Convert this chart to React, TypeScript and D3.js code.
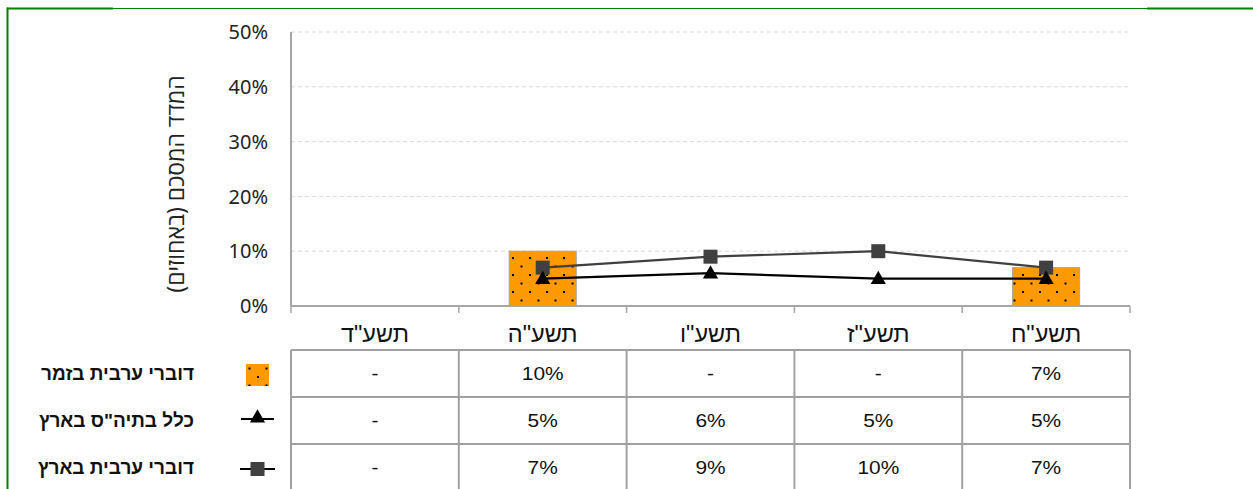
import React from "react";
import * as d3 from "d3";

// categories (school years) and series values in percent
const categories = ['תשע"ד', 'תשע"ה', 'תשע"ו', 'תשע"ז', 'תשע"ח'];
const barValues: (number | null)[] = [null, 10, null, null, 7];
const allSchools: (number | null)[] = [null, 5, 6, 5, 5];
const arabicSchools: (number | null)[] = [null, 7, 9, 10, 7];
const yTicks = [0, 10, 20, 30, 40, 50];

const seriesNames = ["דוברי ערבית בזמר", 'כלל בתיה"ס בארץ', "דוברי ערבית בארץ"];
const yTitle = "המדד המסכם (באחוזים)";

const W = 1253;
const H = 489;
const plot = {left: 291, right: 1130, top: 32, bottom: 306};
const tableTop = 350;
const rowH = 47;

const fmt = (v: number | null) => (v == null ? "-" : `${v}%`);

export default function App() {
    const x = d3.scaleBand<string>().domain(categories).range([plot.left, plot.right]).padding(0);
    const y = d3.scaleLinear().domain([0, 50]).range([plot.bottom, plot.top]);
    const bw = x.bandwidth();
    const barW = bw * 0.4;
    const cx = (c: string) => (x(c) as number) + bw / 2;

    const line = d3
        .line<{c: string; v: number | null}>()
        .defined((d) => d.v != null)
        .x((d) => cx(d.c))
        .y((d) => y(d.v as number));

    const pts = (vals: (number | null)[]) => categories.map((c, i) => ({c, v: vals[i]}));

    const tri = d3.symbol().type(d3.symbolTriangle).size(100)() as string;
    const font = "'Liberation Sans', Arial, sans-serif";
    const tickFont = "'Noto Sans', 'Open Sans', sans-serif";

    const rows = [barValues, allSchools, arabicSchools];
    const edges = [...categories.map((c) => x(c) as number), plot.right];

    return (
        <svg width={W} height={H} style={{position: "absolute", left: 0, top: 0}}>
            <defs>
                <pattern id="dots" width={17} height={17} patternUnits="userSpaceOnUse">
                    <rect width={17} height={17} fill="#ff9900" />
                    <rect x={2} y={2} width={2} height={2} fill="#000" />
                    <rect x={10.5} y={10.5} width={2} height={2} fill="#000" />
                </pattern>
            </defs>
            <rect width={W} height={H} fill="#fff" />

            {/* frame */}
            <line x1={7} x2={W} y1={8.5} y2={8.5} stroke="#008000" strokeWidth={1} />
            <line x1={7} x2={113} y1={8.5} y2={8.5} stroke="#008000" strokeWidth={2} />
            <line x1={1147} x2={W} y1={8.5} y2={8.5} stroke="#008000" strokeWidth={2} />
            <line x1={7.5} x2={7.5} y1={7.5} y2={H} stroke="#008000" strokeWidth={2} />

            {/* gridlines */}
            {yTicks.filter((t) => t > 0).map((t) => (
                <line key={t} x1={plot.left} x2={plot.right} y1={y(t)} y2={y(t)}
                      stroke="#d9d9d9" strokeDasharray="4,3" />
            ))}
            {yTicks.map((t) => (
                <text key={t} x={268} y={y(t)} dy="0.36em" textAnchor="end"
                      fontFamily={tickFont} fontSize={20} fill="#222">{t}%</text>
            ))}

            <text transform={`translate(184,${(plot.top + plot.bottom) / 2 + 15}) rotate(-90)`}
                  textAnchor="middle" direction="rtl" fontFamily={tickFont} fontSize={23} fill="#222">
                {yTitle}
            </text>

            {/* bars */}
            {categories.map((c, i) => barValues[i] == null ? null : (
                <rect key={c} x={cx(c) - barW / 2} y={y(barValues[i] as number)} width={barW}
                      height={y(0) - y(barValues[i] as number)} fill="url(#dots)"
                      stroke="#a6a6a6" strokeWidth={1} />
            ))}

            {/* axes */}
            <line x1={plot.left} x2={plot.right} y1={plot.bottom} y2={plot.bottom} stroke="#a6a6a6" strokeWidth={2} />
            <line x1={plot.left} x2={plot.left} y1={plot.top} y2={plot.bottom} stroke="#a6a6a6" strokeWidth={2} />
            {edges.map((e, i) => (
                <line key={i} x1={e} x2={e} y1={plot.bottom} y2={plot.bottom + 7} stroke="#a6a6a6" strokeWidth={1.5} />
            ))}

            {/* lines */}
            <path d={line(pts(arabicSchools)) as string} fill="none" stroke="#404040" strokeWidth={2.2} />
            <path d={line(pts(allSchools)) as string} fill="none" stroke="#000" strokeWidth={2.2} />
            {categories.map((c, i) => arabicSchools[i] == null ? null : (
                <rect key={c} x={cx(c) - 7} y={y(arabicSchools[i] as number) - 7} width={14} height={14} fill="#404040" />
            ))}
            {categories.map((c, i) => allSchools[i] == null ? null : (
                <path key={c} d={tri} transform={`translate(${cx(c)},${y(allSchools[i] as number) + 1})`} fill="#000" />
            ))}

            {/* category labels */}
            {categories.map((c) => (
                <text key={c} x={cx(c)} y={334} dy="0.35em" textAnchor="middle" direction="rtl"
                      fontFamily={font} fontSize={23.5} fill="#111">{c}</text>
            ))}

            {/* data table */}
            {[0, 1, 2, 3].map((r) => (
                <line key={r} x1={plot.left} x2={plot.right} y1={tableTop + r * rowH} y2={tableTop + r * rowH}
                      stroke="#a0a0a0" strokeWidth={2} />
            ))}
            {edges.map((e, i) => (
                <line key={i} x1={e} x2={e} y1={tableTop} y2={H} stroke="#a0a0a0" strokeWidth={2} />
            ))}
            {rows.map((vals, r) => categories.map((c, i) => (
                <text key={`${r}-${c}`} transform={`translate(${cx(c)},${tableTop + r * rowH + rowH / 2}) scale(1.1,1)`}
                      dy="0.36em" textAnchor="middle" fontFamily={font} fontSize={19} fill="#111">{fmt(vals[i])}</text>
            )))}

            {/* legend keys */}
            <rect x={246} y={364} width={23} height={22} fill="url(#dots)" />
            <line x1={241} x2={274} y1={419} y2={419} stroke="#000" strokeWidth={2} />
            <path d={tri} transform="translate(257.5,418)" fill="#000" />
            <line x1={240} x2={275} y1={469} y2={469} stroke="#000" strokeWidth={2} />
            <rect x={250.5} y={462} width={14} height={14} fill="#404040" />

            {seriesNames.map((n, r) => (
                <text key={n} x={194} y={tableTop + r * rowH + rowH / 2} dy="0.35em" direction="rtl"
                      textAnchor="start" fontFamily={font} fontWeight="bold" fontSize={19} fill="#111">{n}</text>
            ))}
        </svg>
    );
}
